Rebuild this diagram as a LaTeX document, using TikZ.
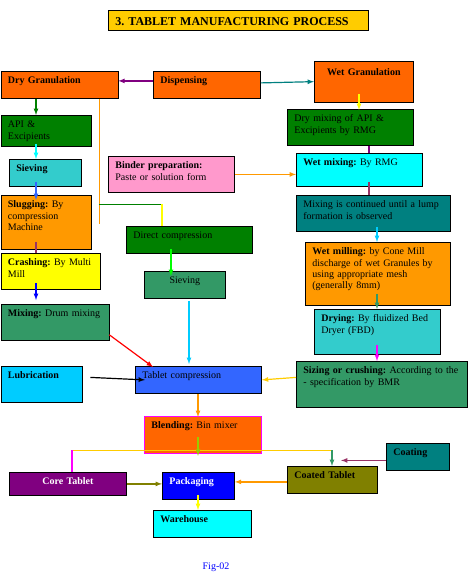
\documentclass[tikz,border=0pt]{standalone}
\usepackage{fontspec}
\setmainfont{Liberation Serif}
\frenchspacing
\definecolor{hotorange}{HTML}{FF6600}
\definecolor{paleorange}{HTML}{FF9900}
\definecolor{goldc}{HTML}{FFCC00}
\definecolor{leafgreen}{HTML}{008000}
\definecolor{tealc}{HTML}{008080}
\definecolor{aquac}{HTML}{33CCCC}
\definecolor{seagreenc}{HTML}{339966}
\definecolor{rosec}{HTML}{FF99CC}
\definecolor{skyc}{HTML}{00CCFF}
\definecolor{royalc}{HTML}{3366FF}
\definecolor{purplec}{HTML}{800080}
\definecolor{olivec}{HTML}{808000}
\definecolor{plumc}{HTML}{993366}
\definecolor{limec}{HTML}{99CC00}
\definecolor{brightgreen}{HTML}{00FF00}
\definecolor{cyanc}{HTML}{00FFFF}
\definecolor{yellowc}{HTML}{FFFF00}
\definecolor{magentac}{HTML}{FF00FF}
\definecolor{bluec}{HTML}{0000FF}
\definecolor{redc}{HTML}{FF0000}

\begin{document}
\begin{tikzpicture}[x=1pt, y=-1pt]
 \useasboundingbox (0,0) rectangle (467,586);
 \tikzset{pbox/.style 2 args={draw, line width=0.8pt, anchor=north west, align=left,
            inner xsep=7pt, inner ysep=3.5pt, text height=9pt,
            text width=\the\dimexpr#1pt-14pt\relax, text depth=\the\dimexpr#2pt-16pt\relax,
            font=\fontsize{10pt}{11.3pt}\selectfont\frenchspacing},
          arr/.style={-latex, line width=1.2pt},
          ln/.style={line width=1.2pt},
          hair/.style={line width=0.8pt}}

 % title
  \node[pbox={260}{24}, fill=goldc, text height=11pt, inner ysep=4pt, text depth=1pt,
        font=\bfseries\fontsize{12pt}{14pt}\selectfont] (title) at (108,10) {3. TABLET MANUFACTURING PROCESS};

 % top row
  \node[pbox={117}{27}, fill=hotorange] (drygran) at (0.5,71) {\textbf{Dry Granulation}};
  \node[pbox={107}{27}, fill=hotorange] (dispensing) at (153,71) {\textbf{Dispensing}};
  \node[pbox={99}{39}, fill=hotorange, align=center, text height=10.5pt] (wetgran) at (314,61) {\textbf{Wet Granulation}};

 % dry granulation column
  \node[pbox={90}{31}, fill=leafgreen] (api) at (0.5,115) {API \&\\Excipients};
  \node[pbox={72}{27}, fill=aquac] (sieving) at (9,159) {\textbf{Sieving}};
  \node[pbox={90}{54}, fill=paleorange] (slugging) at (0.5,195) {\textbf{Slugging:} By\\compression\\Machine};
  \node[pbox={99}{36}, fill=yellowc] (crashing) at (0.5,253) {\textbf{Crashing:} By Multi\\Mill};
  \node[pbox={108}{36}, fill=seagreenc] (mixing) at (0.5,304) {\textbf{Mixing:} Drum mixing};
  \node[pbox={81}{36}, fill=skyc] (lubrication) at (0.5,366) {\textbf{Lubrication}};

 % wet granulation column
  \node[pbox={126}{36}, fill=leafgreen] (drymix) at (287,109) {Dry mixing of API \&\\Excipients by RMG};
  \node[pbox={126}{36}, fill=rosec] (binder) at (108,156) {\textbf{Binder preparation:}\\Paste or solution form};
  \node[pbox={126}{33}, fill=cyanc] (wetmix) at (296,153) {\textbf{Wet mixing:} By RMG};
  \node[pbox={154}{36}, fill=tealc] (lump) at (296,195) {Mixing is continued until a lump\\formation is observed};
  \node[pbox={145}{63}, fill=paleorange] (wetmill) at (305,242) {\textbf{Wet milling:} by Cone Mill\\discharge of wet Granules by\\using appropriate mesh\\(generally 8mm)};
  \node[pbox={126}{45}, fill=aquac] (drying) at (314,309) {\textbf{Drying:} By fluidized Bed\\Dryer (FBD)};
  \node[pbox={170.5}{46}, fill=seagreenc] (sizing) at (296,361) {\textbf{Sizing or crushing:} According to the\\- specification by BMR};

 % direct compression column
  \node[pbox={126}{27}, fill=leafgreen] (directcomp) at (126,226) {Direct compression};
  \node[pbox={81}{27}, fill=seagreenc, align=center] (sievingdc) at (144,271) {Sieving};

 % compression and finishing
  \node[pbox={126}{27}, fill=royalc] (tabcomp) at (135,366) {Tablet compression};
  \node[pbox={117}{37}, fill=hotorange, draw=magentac] (blending) at (144,416) {\textbf{Blending:} Bin mixer};
  \node[pbox={63}{27}, fill=tealc] (coating) at (386,443) {\textbf{Coating}};
  \node[pbox={90}{27}, fill=olivec] (coated) at (287,466) {\textbf{Coated Tablet}};
  \node[pbox={117}{23}, fill=purplec, align=center, text=white] (coretab) at (9,472) {\textbf{Core Tablet}};
  \node[pbox={72}{27}, fill=bluec, text=white] (packaging) at (162,472) {\textbf{Packaging}};
  \node[pbox={98}{27}, fill=cyanc] (warehouse) at (153,510) {\textbf{Warehouse}};

  \node[text=bluec, font=\fontsize{10pt}{12pt}\selectfont] (fig) at (216,567) {Fig-02};

 % columns of the vertical connectors
  \coordinate (lcol) at (36,0);
  \coordinate (dgcol) at (99,0);
  \coordinate (dccol) at (162,0);
  \coordinate (sdcol) at (171,0);
  \coordinate (tccol) at (189,0);
  \coordinate (ccol) at (198,0);
  \coordinate (wgcol) at (359,0);
  \coordinate (rcol) at (369,0);
  \coordinate (mcol) at (377,0);
  \coordinate (kcol) at (72,0);
  \coordinate (ctcol) at (332,0);
  \coordinate (branch) at (99,204);
  \coordinate (bus) at (0,450);

 % dispensing
  \draw[arr, purplec] ([yshift=4pt]dispensing.west) -- ([yshift=4pt]drygran.east);
  \draw[arr, tealc] ([yshift=2pt]dispensing.east) -- (wetgran.west);

 % dry granulation
  \draw[arr, leafgreen] (drygran.south -| lcol) -- (api.north -| lcol);
  \draw[arr, cyanc] ([yshift=3pt]api.south -| lcol) -- (sieving.north -| lcol);
  \draw[arr, royalc] ([yshift=5pt]sieving.south -| lcol) -- ([yshift=-5pt]slugging.north -| lcol);
  \draw[ln, plumc] ([yshift=8pt]slugging.south -| lcol) -- (crashing.north -| lcol);
  \draw[arr, bluec] ([yshift=7pt]crashing.south -| lcol) -- ([yshift=4pt]mixing.north -| lcol);

 % branch to direct compression
  \draw[hair, paleorange] (drygran.south -| dgcol) -- ([yshift=2pt]directcomp.north -| dgcol);
  \draw[hair, leafgreen] (branch) -- (branch -| dccol);
  \draw[ln, yellowc] (branch -| dccol) -- (directcomp.north -| dccol);
  \draw[arr, brightgreen] ([yshift=5pt]directcomp.south -| sdcol) -- ([yshift=-5pt]sievingdc.north -| sdcol);
  \draw[arr, skyc] ([yshift=-2pt]sievingdc.south -| tccol) -- ([yshift=2pt]tabcomp.north -| tccol);

 % wet granulation
  \draw[arr, yellowc] ([yshift=8pt]wetgran.south -| wgcol) -- ([yshift=-1pt]drymix.north -| wgcol);
  \draw[ln, purplec] (drymix.south -| rcol) -- (wetmix.north -| rcol);
  \draw[arr, paleorange] (binder.east) -- (binder.east -| wetmix.west);
  \draw[ln, plumc] ([yshift=5pt]wetmix.south -| rcol) -- (lump.north -| rcol);
  \draw[arr, skyc] ([yshift=5pt]lump.south -| mcol) -- (wetmill.north -| mcol);
  \draw[arr, seagreenc] ([yshift=12pt]wetmill.south -| mcol) -- (drying.north -| mcol);
  \draw[arr, magentac] ([yshift=10pt]drying.south -| mcol) -- (sizing.north -| mcol);

 % into tablet compression
  \draw[arr, redc] ([yshift=6pt]mixing.south east) -- ([xshift=18pt,yshift=-1pt]tabcomp.north west);
  \draw[arr, black] ([xshift=8pt,yshift=7pt]lubrication.east) -- ([xshift=10pt]tabcomp.west);
  \draw[arr, goldc] ([yshift=7pt]sizing.west) -- (tabcomp.east);
  \draw[arr, paleorange] (tabcomp.south -| ccol) -- ([yshift=-1pt]blending.north -| ccol);

 % blending to tablets
  \draw[hair, goldc] (bus -| kcol) -- (bus -| ctcol);
  \draw[arr, limec] ([yshift=17pt]blending.south -| ccol) -- ([yshift=-2pt]blending.south -| ccol);
  \draw[ln, magentac] (bus -| kcol) -- (coretab.north -| kcol);
  \draw[arr, seagreenc] (bus -| ctcol) -- (coated.north -| ctcol);
  \draw[arr, plumc] ([yshift=-3.5pt]coating.west) -- ++(-45,0);

 % packaging
  \draw[arr, olivec] (coretab.east) -- (coretab.east -| packaging.west);
  \draw[arr, paleorange] ([yshift=-2pt]coated.west) -- ([yshift=-2pt]coated.west -| packaging.east);
  \draw[arr, yellowc] ([yshift=5pt]packaging.south -| ccol) -- (warehouse.north -| ccol);
\end{tikzpicture}
\end{document}
